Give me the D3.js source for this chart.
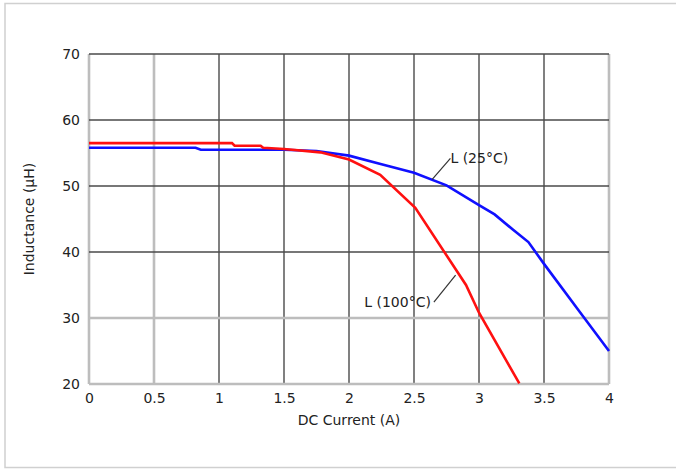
<!DOCTYPE html>
<html><head><meta charset="utf-8">
<script src="https://cdn.jsdelivr.net/npm/d3@7"></script>
<style>
html,body{margin:0;padding:0;background:#fff;}
svg{display:block;}
text{font-family:"DejaVu Sans",Verdana,sans-serif;fill:#222;}
</style></head>
<body>
<svg id="c" width="676" height="470"></svg>
<script>
const xTicks = [0, 0.5, 1, 1.5, 2, 2.5, 3, 3.5, 4];
const yTicks = [20, 30, 40, 50, 60, 70];
const xTickLabels = ["0", "0.5", "1", "1.5", "2", "2.5", "3", "3.5", "4"];
const curve25 = [[0,55.8],[0.82,55.8],[0.86,55.5],[1.5,55.5],[1.75,55.3],[2,54.6],[2.25,53.3],[2.5,52.0],[2.75,50.1],[3,47.1],[3.12,45.7],[3.26,43.4],[3.38,41.5],[3.5,38.2],[3.78,30.8],[4,25.0]];
const curve100 = [[0,56.5],[1.1,56.5],[1.12,56.1],[1.32,56.1],[1.34,55.8],[1.5,55.6],[1.78,55.1],[2,54.0],[2.24,51.7],[2.51,46.7],[2.9,35.0],[3.0,30.8],[3.31,20.1]];
const lightX = [0, 0.5, 4];
const lightY = [20, 30];
const label25 = {text:"L (25°C)", at:[2.64,51.0], tx:[2.78,54.2]};
const label100 = {text:"L (100°C)", at:[2.82,36.5], tx:[2.63,32.4]};
const FS = "14px";

const svg = d3.select("#c");
// frame
svg.append("rect").attr("x",5).attr("y",3.5).attr("width",700).attr("height",464)
  .attr("fill","none").attr("stroke","#d0d0d0").attr("stroke-width",1.5);

const x = d3.scaleLinear().domain([0,4]).range([89,609]);
const y = d3.scaleLinear().domain([20,70]).range([384,54]);

// grid
const g = svg.append("g");
xTicks.forEach(v=>{
  const light = lightX.includes(v);
  g.append("line").attr("x1",x(v)).attr("x2",x(v)).attr("y1",y(70)).attr("y2",y(20))
   .attr("stroke",light?"#bdbdbd":"#4a4a4a").attr("stroke-width",light?2.6:1.4);
});
yTicks.forEach(v=>{
  const light = lightY.includes(v);
  g.append("line").attr("x1",x(0)).attr("x2",x(4)).attr("y1",y(v)).attr("y2",y(v))
   .attr("stroke",light?"#bdbdbd":"#4a4a4a").attr("stroke-width",light?2.6:1.4);
});

const xAxis = svg.append("g").attr("transform",`translate(0,${y(20)})`)
  .call(d3.axisBottom(x).tickValues(xTicks).tickFormat((d,i)=>xTickLabels[i]).tickSize(0).tickPadding(9));
const yAxis = svg.append("g").attr("transform",`translate(${x(0)},0)`)
  .call(d3.axisLeft(y).tickValues(yTicks).tickSize(0).tickPadding(9));
[xAxis,yAxis].forEach(a=>{
  a.select(".domain").remove();
  a.selectAll("text").style("font-family","'DejaVu Sans',Verdana,sans-serif").style("font-size",FS).attr("fill","#222");
});

svg.append("text").attr("x",(x(0)+x(4))/2).attr("y",425).attr("text-anchor","middle")
  .style("font-size",FS).text("DC Current (A)");
svg.append("text").attr("transform",`translate(34,${(y(20)+y(70))/2}) rotate(-90)`).attr("text-anchor","middle")
  .style("font-size",FS).text("Inductance (µH)");

const line = d3.line().x(d=>x(d[0])).y(d=>y(d[1]));
svg.append("path").datum(curve25).attr("d",line).attr("fill","none").attr("stroke","#1010ff").attr("stroke-width",2.6);
svg.append("path").datum(curve100).attr("d",line).attr("fill","none").attr("stroke","#ff1010").attr("stroke-width",2.6);

function lbl(L, anchor, dx){
  svg.append("line").attr("x1",x(L.at[0])).attr("y1",y(L.at[1])).attr("x2",x(L.tx[0])+dx).attr("y2",y(L.tx[1]))
    .attr("stroke","#333").attr("stroke-width",1.2);
  svg.append("text").attr("x",x(L.tx[0])).attr("y",y(L.tx[1])+5).attr("text-anchor",anchor)
    .style("font-size",FS).text(L.text);
}
lbl(label25,"start",0);
lbl(label100,"end",3);
</script>
</body></html>
